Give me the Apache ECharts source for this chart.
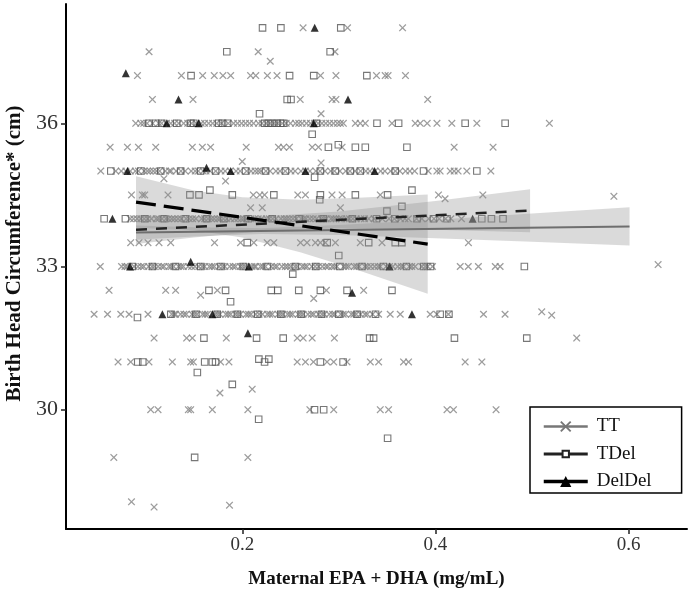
<!DOCTYPE html>
<html>
<head>
<meta charset="utf-8">
<script src="https://cdn.jsdelivr.net/npm/echarts@6/dist/echarts.min.js"></script>
<style>
html,body{margin:0;padding:0;background:#fff;}
#chart{width:693px;height:594px;}
</style>
</head>
<body>
<div id="chart"></div>
<script>
// ---------- tick values ----------
const xTicks = [0.2, 0.4, 0.6];
const yTicks = [30, 33, 36];

// ---------- TT (x markers), x values per y level ----------
const tt38 = [0.263, 0.309, 0.366];
const tt375 = [0.1035, 0.2165, 0.296];
const tt37 = [0.0915, 0.137, 0.159, 0.171, 0.180, 0.188, 0.2086, 0.214, 0.226, 0.236, 0.281, 0.297, 0.339, 0.348, 0.351, 0.369];
const tt365 = [0.107, 0.149, 0.260, 0.293, 0.297, 0.392];
const tt36 = [0.0897, 0.0949, 0.098, 0.1073, 0.1135, 0.1259, 0.13, 0.1342, 0.1393, 0.1435, 0.161, 0.1652, 0.1693, 0.191, 0.1951, 0.1993, 0.2034, 0.2075, 0.2117, 0.2168, 0.2499, 0.2551, 0.262, 0.2706, 0.2747, 0.3016, 0.3047, 0.3171, 0.3222, 0.3274, 0.355, 0.3791, 0.3843, 0.3915, 0.4016, 0.417, 0.4429, 0.518];
const tt36b = [0.1015, 0.1165, 0.1215, 0.1475, 0.1525, 0.1575, 0.1735, 0.1785, 0.1855, 0.2205, 0.2245, 0.2285, 0.2325, 0.2365, 0.2415, 0.2455, 0.2585, 0.2665, 0.2785, 0.2825, 0.2865, 0.2905, 0.2945, 0.2985];
const tt355 = [0.0632, 0.0811, 0.0925, 0.1104, 0.1483, 0.1587, 0.1672, 0.2041, 0.2375, 0.2427, 0.2489, 0.2724, 0.2789, 0.3034, 0.4194, 0.4597];
const tt35 = [0.0535, 0.069, 0.0747, 0.0841, 0.0893, 0.0925, 0.0984, 0.1018, 0.1079, 0.1112, 0.1203, 0.1262, 0.1316, 0.1409, 0.1471, 0.1513, 0.1668, 0.178, 0.1823, 0.1936, 0.1979, 0.2091, 0.2133, 0.2194, 0.2288, 0.2349, 0.2391, 0.2504, 0.2547, 0.2608, 0.2701, 0.2762, 0.2857, 0.2916, 0.3011, 0.3072, 0.3168, 0.3279, 0.3322, 0.3433, 0.3477, 0.3536, 0.3632, 0.3691, 0.3735, 0.3925, 0.4015, 0.4049, 0.4153, 0.4194, 0.4235, 0.4325, 0.4574];
const tt35b = [0.0795, 0.1045, 0.1145, 0.1245, 0.1365, 0.1545, 0.1595, 0.1625, 0.1725, 0.1875, 0.2045, 0.2165, 0.2245, 0.2445, 0.2655, 0.2805, 0.2955, 0.3115, 0.3225, 0.3375, 0.3585, 0.3785];
const tt345 = [0.0853, 0.0966, 0.099, 0.1231, 0.2114, 0.2182, 0.2231, 0.2575, 0.2654, 0.2929, 0.3034, 0.3429, 0.4032, 0.4491];
const tt34 = [0.084, 0.091, 0.095, 0.102, 0.106, 0.111, 0.117, 0.121, 0.127, 0.13, 0.137, 0.142, 0.145, 0.152, 0.158, 0.161, 0.168, 0.171, 0.177, 0.184, 0.188, 0.192, 0.199, 0.204, 0.209, 0.213, 0.22, 0.225, 0.228, 0.235, 0.24, 0.246, 0.249, 0.256, 0.261, 0.266, 0.27, 0.277, 0.282, 0.287, 0.292, 0.297, 0.303, 0.308, 0.311, 0.318, 0.323, 0.331, 0.345, 0.352, 0.364, 0.372, 0.386, 0.393, 0.404, 0.416, 0.427];
const tt34b = [0.0875, 0.0985, 0.1135, 0.1235, 0.1335, 0.1485, 0.1645, 0.1745, 0.1805, 0.1955, 0.2015, 0.2165, 0.2315, 0.2435, 0.2525, 0.2635, 0.2735, 0.2845, 0.2945, 0.3005, 0.3145, 0.3265, 0.3365, 0.3575, 0.3685, 0.3805, 0.3985, 0.4105];
const tt335 = [0.0845, 0.0931, 0.1024, 0.1138, 0.1259, 0.1713, 0.1982, 0.212, 0.2258, 0.2327, 0.2603, 0.2671, 0.2757, 0.2809, 0.2861, 0.2964, 0.3222, 0.3447, 0.4342];
const tt33 = [0.053, 0.075, 0.081, 0.088, 0.092, 0.098, 0.103, 0.109, 0.113, 0.119, 0.124, 0.129, 0.134, 0.139, 0.144, 0.151, 0.155, 0.161, 0.166, 0.171, 0.176, 0.182, 0.187, 0.193, 0.198, 0.203, 0.21, 0.214, 0.219, 0.224, 0.23, 0.236, 0.241, 0.247, 0.25, 0.257, 0.262, 0.267, 0.272, 0.279, 0.283, 0.289, 0.293, 0.298, 0.305, 0.31, 0.316, 0.321, 0.327, 0.333, 0.337, 0.343, 0.349, 0.356, 0.361, 0.367, 0.373, 0.379, 0.386, 0.392, 0.397, 0.4257, 0.434, 0.4445, 0.462, 0.467];
const tt33b = [0.0785, 0.0955, 0.1065, 0.1165, 0.1265, 0.1365, 0.1475, 0.1585, 0.1685, 0.1795, 0.1905, 0.2005, 0.2125, 0.2215, 0.2335, 0.2445, 0.2545, 0.2645, 0.2755, 0.2865, 0.2955, 0.3075, 0.3185, 0.3295, 0.3405, 0.3525, 0.3645, 0.3755, 0.3895];
const tt325 = [0.0621, 0.1207, 0.131, 0.1742, 0.2871, 0.3257];
const tt32 = [0.0466, 0.0605, 0.0742, 0.0828, 0.1024, 0.127, 0.131, 0.136, 0.142, 0.148, 0.153, 0.159, 0.164, 0.172, 0.177, 0.183, 0.188, 0.193, 0.198, 0.204, 0.209, 0.214, 0.221, 0.226, 0.231, 0.237, 0.242, 0.247, 0.252, 0.258, 0.263, 0.268, 0.274, 0.279, 0.285, 0.29, 0.296, 0.302, 0.307, 0.313, 0.318, 0.3225, 0.327, 0.335, 0.3412, 0.3532, 0.3636, 0.3946, 0.4015, 0.4135, 0.4498, 0.4721];
const tt32b = [0.1295, 0.1395, 0.1505, 0.1615, 0.1745, 0.1855, 0.1955, 0.2065, 0.2175, 0.2285, 0.2395, 0.2495, 0.2605, 0.2715, 0.2825, 0.2935, 0.3045, 0.3155, 0.3295];
const tt315 = [0.1087, 0.1424, 0.1483, 0.1835, 0.2569, 0.2631, 0.2724, 0.2954, 0.5463];
const tt31 = [0.0714, 0.0845, 0.1034, 0.1276, 0.1466, 0.1494, 0.1776, 0.1862, 0.2569, 0.2654, 0.2737, 0.2878, 0.2947, 0.3085, 0.3326, 0.3412, 0.367, 0.3722, 0.4308, 0.4481];
const tt30 = [0.1052, 0.1128, 0.1442, 0.1466, 0.169, 0.2058, 0.27, 0.2947, 0.3429, 0.3515, 0.412, 0.4187, 0.4628];
const tt29 = [0.067, 0.2058];
const tt28 = [0.1868];
// TT points off the 0.5 cm levels  [x, y]
const ttOff = [[0.1189, 34.84], [0.1827, 34.79], [0.2, 35.2], [0.2816, 35.17], [0.2816, 36.2], [0.229, 37.3],
  [0.2086, 34.23], [0.2207, 34.23], [0.3016, 34.23], [0.41, 34.42], [0.5848, 34.47], [0.274, 32.33], [0.1569, 32.4],
  [0.1769, 30.35], [0.2103, 30.43], [0.6306, 33.04], [0.5101, 32.05], [0.5204, 31.98], [0.0853, 28.07], [0.1087, 27.96]];

// ---------- TDel (open squares) [x, y] ----------
const tdelHigh = [[0.221, 38], [0.240, 38], [0.302, 38], [0.184, 37.5], [0.291, 37.5],
  [0.147, 37], [0.249, 37], [0.274, 37], [0.329, 37], [0.2465, 36.5], [0.2505, 36.5], [0.2179, 36.2],
  [0.1032, 36], [0.1104, 36], [0.1166, 36], [0.1321, 36], [0.1466, 36], [0.1497, 36], [0.1755, 36], [0.1796, 36],
  [0.1848, 36], [0.2231, 36], [0.2272, 36], [0.2313, 36], [0.2355, 36], [0.2396, 36], [0.2427, 36], [0.2768, 36],
  [0.3395, 36], [0.3619, 36], [0.4308, 36], [0.4722, 36], [0.2724, 35.77],
  [0.2892, 35.5], [0.2995, 35.55], [0.3171, 35.5], [0.3274, 35.5], [0.3705, 35.5]];
const tdelMid = [[0.0639, 35], [0.0949, 35], [0.1156, 35], [0.1362, 35], [0.1569, 35], [0.1724, 35], [0.2034, 35],
  [0.2241, 35], [0.2447, 35], [0.2809, 35], [0.2964, 35], [0.3119, 35], [0.3222, 35], [0.3584, 35], [0.3877, 35],
  [0.4429, 35], [0.2749, 34.87],
  [0.1458, 34.5], [0.1552, 34.5], [0.1897, 34.5], [0.2327, 34.5], [0.2809, 34.5], [0.3171, 34.5], [0.3505, 34.5],
  [0.1665, 34.6], [0.3757, 34.6], [0.2802, 34.4], [0.3498, 34.16], [0.3653, 34.26],
  [0.057, 34], [0.079, 34], [0.099, 34], [0.119, 34], [0.141, 34], [0.163, 34], [0.181, 34], [0.206, 34], [0.231, 34],
  [0.259, 34], [0.284, 34], [0.314, 34], [0.339, 34], [0.358, 34], [0.381, 34], [0.398, 34], [0.412, 34], [0.448, 34],
  [0.458, 34], [0.47, 34],
  [0.2052, 33.5], [0.2879, 33.5], [0.3309, 33.5], [0.3584, 33.5], [0.3653, 33.5], [0.2999, 33.23]];
const tdelLow = [[0.086, 33], [0.107, 33], [0.131, 33], [0.157, 33], [0.178, 33], [0.201, 33], [0.226, 33], [0.255, 33],
  [0.276, 33], [0.301, 33], [0.324, 33], [0.346, 33], [0.37, 33], [0.388, 33], [0.395, 33], [0.4921, 33], [0.2523, 32.84],
  [0.1655, 32.5], [0.1827, 32.5], [0.23, 32.5], [0.2368, 32.5], [0.2585, 32.5], [0.2809, 32.5], [0.3085, 32.5],
  [0.355, 32.5], [0.1879, 32.26],
  [0.126, 32], [0.152, 32], [0.174, 32], [0.195, 32], [0.216, 32], [0.24, 32], [0.261, 32], [0.282, 32], [0.3, 32],
  [0.319, 32], [0.338, 32], [0.4049, 32], [0.414, 32], [0.0915, 31.93],
  [0.1603, 31.5], [0.2148, 31.5], [0.2424, 31.5], [0.3319, 31.5], [0.336, 31.5], [0.4197, 31.5], [0.4946, 31.5],
  [0.0918, 31], [0.097, 31], [0.1611, 31], [0.169, 31], [0.1724, 31], [0.2172, 31.06], [0.2275, 31.06], [0.2231, 31],
  [0.2809, 31], [0.3044, 31], [0.1535, 30.78], [0.1897, 30.53],
  [0.2748, 30], [0.2843, 30], [0.217, 29.8], [0.3505, 29.4], [0.1507, 29]];

// ---------- DelDel (filled triangles) [x, y] ----------
const delPts = [[0.275, 38], [0.0794, 37.05], [0.134, 36.5], [0.3095, 36.5], [0.1218, 36], [0.1548, 36], [0.274, 36],
  [0.0812, 35], [0.163, 35.07], [0.188, 35], [0.2654, 35], [0.337, 35], [0.0656, 34], [0.4385, 34],
  [0.0838, 33], [0.1466, 33.1], [0.2068, 33], [0.3526, 33], [0.3137, 32.45], [0.1173, 32], [0.169, 32],
  [0.3757, 32], [0.2058, 31.6]];

// ---------- fitted lines ----------
const ttLine = [[0.09, 33.71], [0.601, 33.84]];
const tdelLine = [[0.09, 33.77], [0.498, 34.17]];
const delLine = [[0.09, 34.35], [0.392, 33.47]];

// ---------- confidence bands ----------
const ttBandX = [0.09, 0.15, 0.22, 0.3, 0.4, 0.5, 0.601];
const ttBandLo = [33.56, 33.63, 33.68, 33.66, 33.59, 33.52, 33.44];
const ttBandHi = [33.86, 33.82, 33.80, 33.87, 33.98, 34.11, 34.24];
const tdelBandX = [0.09, 0.15, 0.22, 0.3, 0.4, 0.498];
const tdelBandLo = [33.47, 33.61, 33.74, 33.80, 33.77, 33.72];
const tdelBandHi = [34.07, 34.05, 34.05, 34.15, 34.37, 34.62];
const delBandX = [0.09, 0.15, 0.2, 0.26, 0.32, 0.392];
const delBandLo = [33.81, 33.76, 33.61, 33.30, 32.92, 32.43];
const delBandHi = [34.89, 34.59, 34.45, 34.40, 34.44, 34.51];

// ---------- build ----------
function rowPts(xs, y) { return xs.map(function (x) { return [x, y]; }); }
const ttData = [].concat(
  rowPts(tt38, 38), rowPts(tt375, 37.5), rowPts(tt37, 37), rowPts(tt365, 36.5), rowPts(tt36, 36), rowPts(tt36b, 36),
  rowPts(tt355, 35.5), rowPts(tt35, 35), rowPts(tt35b, 35), rowPts(tt345, 34.5), rowPts(tt34, 34), rowPts(tt34b, 34),
  rowPts(tt335, 33.5), rowPts(tt33, 33), rowPts(tt33b, 33), rowPts(tt325, 32.5), rowPts(tt32, 32), rowPts(tt32b, 32),
  rowPts(tt315, 31.5), rowPts(tt31, 31), rowPts(tt30, 30), rowPts(tt29, 29), rowPts(tt28, 28), ttOff);
const tdelData = [].concat(tdelHigh, tdelMid, tdelLow);

const FONT = 'Liberation Serif';
const xMark = 'path://M1.2,0L5,3.8L8.8,0L10,1.2L6.2,5L10,8.8L8.8,10L5,6.2L1.2,10L0,8.8L3.8,5L0,1.2Z';
const legendSquare = 'emptyPath://M0,0M12,12M2.6,2.6L9.4,2.6L9.4,9.4L2.6,9.4Z';

function bandSeries(name, bx, lo, hi) {
  return {
    name: name, type: 'custom', z: 3, silent: true,
    data: bx.map(function (x, i) { return [x, lo[i], hi[i]]; }),
    encode: { x: 0, y: [1, 2] },
    renderItem: function (params, api) {
      if (params.dataIndex !== 0) return null;
      const pts = [];
      for (let i = 0; i < bx.length; i++) pts.push(api.coord([bx[i], hi[i]]));
      for (let i = bx.length - 1; i >= 0; i--) pts.push(api.coord([bx[i], lo[i]]));
      return { type: 'polygon', shape: { points: pts }, style: { fill: 'rgba(140,140,140,0.32)' } };
    }
  };
}

const chart = echarts.init(document.getElementById('chart'), null, { renderer: 'canvas' });
chart.setOption({
  animation: false,
  backgroundColor: '#fff',
  grid: { left: 66, right: 6, top: 4, bottom: 65, containLabel: false, outerBoundsMode: 'none' },
  xAxis: {
    type: 'value', min: 0.0175, max: 0.6605,
    name: 'Maternal EPA + DHA (mg/mL)', nameLocation: 'middle', nameGap: 41,
    nameTextStyle: { fontFamily: FONT, fontWeight: 'bold', fontSize: 19, color: '#111' },
    axisLine: { onZero: false, lineStyle: { color: '#000', width: 2 } },
    axisTick: { show: true, length: 5, customValues: xTicks, lineStyle: { color: '#222', width: 1.5 } },
    axisLabel: { customValues: xTicks, margin: 7, fontFamily: FONT, fontSize: 19, color: '#333',
      formatter: function (v) { return v.toFixed(1); } },
    splitLine: { show: false }
  },
  yAxis: {
    type: 'value', min: 27.5, max: 38.5,
    name: 'Birth Head Circumference* (cm)', nameLocation: 'middle', nameGap: 40, nameRotate: 90,
    nameTextStyle: { fontFamily: FONT, fontWeight: 'bold', fontSize: 21, color: '#111', padding: [0, 0, 0, 26] },
    axisLine: { onZero: false, lineStyle: { color: '#000', width: 2 } },
    axisTick: { show: true, length: 5, customValues: yTicks, lineStyle: { color: '#222', width: 1.5 } },
    axisLabel: { customValues: yTicks, margin: 8, fontFamily: FONT, fontSize: 22, color: '#333' },
    splitLine: { show: false }
  },
  legend: {
    orient: 'vertical', left: 530, top: 407,
    itemWidth: 44, itemHeight: 14, itemGap: 8.5,
    padding: [10, 30, 2, 12],
    borderColor: '#000', borderWidth: 1.5, backgroundColor: '#fff',
    selectedMode: false,
    textStyle: { fontFamily: FONT, fontSize: 19, color: '#111', padding: [0, 0, 0, 4] },
    data: [
      { name: 'TT', lineStyle: { width: 2.5, type: 'solid', color: '#777' }, itemStyle: { color: '#777' } },
      { name: 'TDel', lineStyle: { width: 3, type: 'solid', color: '#222' } },
      { name: 'DelDel', lineStyle: { width: 3.5, type: 'solid', color: '#000' }, itemStyle: { color: '#000' } }
    ]
  },
  series: [
    { name: 'TT points', type: 'scatter', z: 2, data: ttData, symbol: xMark, symbolSize: 7.5,
      itemStyle: { color: '#848484' }, silent: true },
    { name: 'TDel points', type: 'scatter', z: 2, data: tdelData, symbol: 'rect', symbolSize: 6.5,
      itemStyle: { color: 'rgba(0,0,0,0)', borderColor: '#555', borderWidth: 1.1 }, silent: true },
    { name: 'DelDel points', type: 'scatter', z: 2, data: delPts, symbol: 'triangle', symbolSize: 8,
      itemStyle: { color: '#000' }, silent: true },
    bandSeries('TT band', ttBandX, ttBandLo, ttBandHi),
    bandSeries('TDel band', tdelBandX, tdelBandLo, tdelBandHi),
    bandSeries('DelDel band', delBandX, delBandLo, delBandHi),
    { name: 'TT', type: 'line', z: 4, data: ttLine, symbol: xMark, showSymbol: false,
      lineStyle: { color: '#6e6e6e', width: 2 }, itemStyle: { color: '#777' }, silent: true },
    { name: 'TDel', type: 'line', z: 4, data: tdelLine, symbol: legendSquare, showSymbol: false,
      lineStyle: { color: '#222', width: 2.5, type: [11, 9] }, itemStyle: { color: '#222' }, silent: true },
    { name: 'DelDel', type: 'line', z: 4, data: delLine, symbol: 'triangle', showSymbol: false,
      lineStyle: { color: '#000', width: 3.2, type: [20, 8] }, itemStyle: { color: '#000' }, silent: true }
  ]
});
</script>
</body>
</html>
